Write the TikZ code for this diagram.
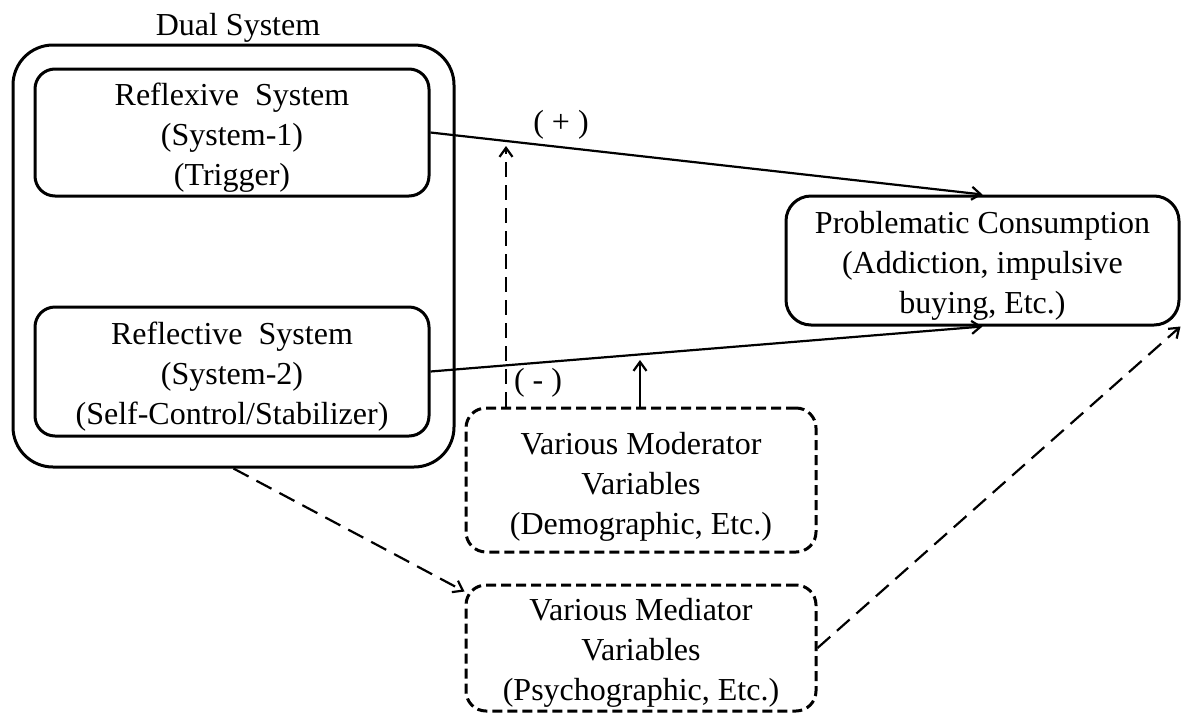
\documentclass[tikz,border=0pt]{standalone}
\usepackage{fontspec}
\setmainfont{Liberation Serif}
\usetikzlibrary{arrows.meta,calc}
\begin{document}
\begin{tikzpicture}[x=1pt,y=-1pt,
  font=\fontsize{32}{40}\selectfont,
  solidbox/.style={draw,line width=3pt,rounded corners=20pt,inner sep=0pt},
  dashbox/.style={draw,line width=3pt,dash pattern=on 10pt off 5pt,rounded corners=20pt,inner sep=0pt},
  txt/.style={align=center,inner sep=0pt,yshift=-5pt},
  tipstyle/.style={-{Straight Barb[length=9pt,width=13pt,line width=2.2pt]}},
  conn/.style={line width=2.2pt,tipstyle},
  dconn/.style={line width=2.2pt,dash pattern=on 17pt off 9pt,tipstyle}]
\useasboundingbox (0,0) rectangle (1181,713);
\node[draw,line width=3pt,rounded corners=40pt,minimum width=441pt,minimum height=422pt,inner sep=0pt] (dual) at (233.5,256) {};
\node[txt] (dlabel) at (238,23) {Dual System};
\node[solidbox,minimum width=394pt,minimum height=127pt] (refx) at (232,132.5) {};
\node[txt] (refxt) at (refx.center) {Reflexive\ \ System\\(System-1)\\(Trigger)};
\node[solidbox,minimum width=394pt,minimum height=129pt] (refl) at (232,371.5) {};
\node[txt] (reflt) at (refl.center) {Reflective\ \ System\\(System-2)\\(Self-Control/Stabilizer)};
\node[solidbox,rounded corners=25pt,minimum width=393pt,minimum height=129pt] (prob) at (982.5,260.5) {};
\node[txt] (probt) at (prob.center) {Problematic Consumption\\(Addiction, impulsive\\buying, Etc.)};
\node[dashbox,minimum width=350pt,minimum height=144pt] (mod) at (641,480) {};
\node[txt] (modt) at ($(mod.center)+(0,2)$) {Various Moderator\\Variables\\(Demographic, Etc.)};
\node[dashbox,minimum width=350pt,minimum height=126pt] (med) at (641,648) {};
\node[txt] (medt) at (med.center) {Various Mediator\\Variables\\(Psychographic, Etc.)};
\node[txt] (plus) at (561,120) {( + )};
\node[txt] (minus) at (538,378) {( - )};
\draw[conn] (refx.east) -- (prob.north);
\draw[conn] (refl.east) -- (prob.south);
\coordinate (m1) at (506,146);
\coordinate (m2) at (640,360);
\draw[dconn,dash pattern=on 15pt off 8pt] (mod.north -| m1) -- (m1);
\draw[conn] (mod.north -| m2) -- (m2);
\draw[dconn] (dual.south) -- ($(med.north west)+(0,8)$);
\draw[dconn] (med.east) -- (prob.south east);
\end{tikzpicture}
\end{document}
